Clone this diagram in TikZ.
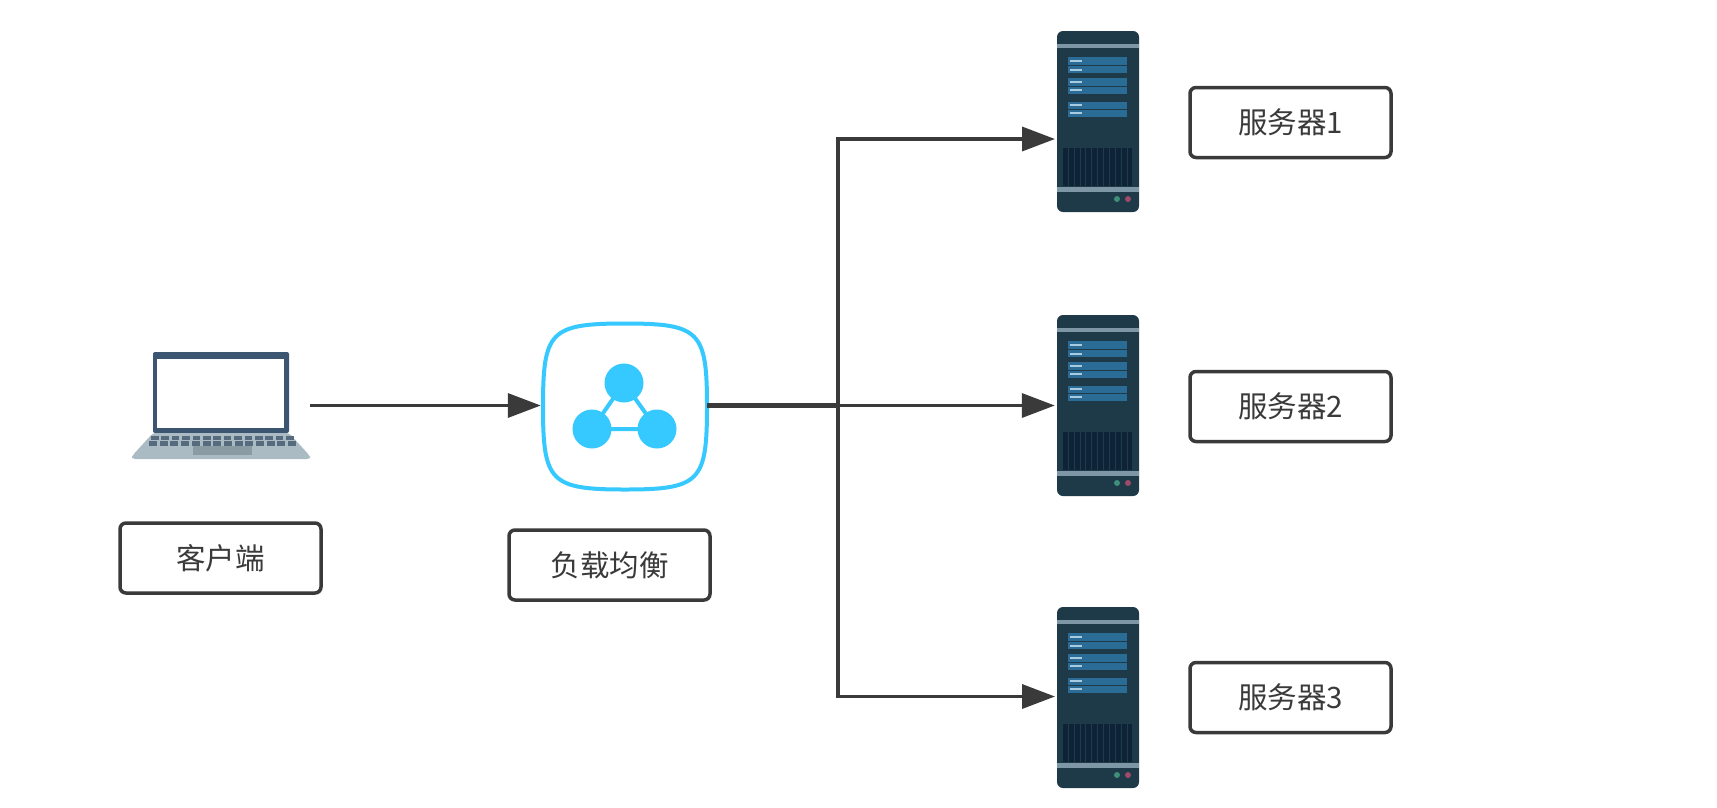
\documentclass[tikz,border=0pt]{standalone}
\usepackage{fontspec}
\setmainfont{Noto Sans CJK SC}
\usetikzlibrary{arrows.meta}
\definecolor{ink}{HTML}{3A3A3A}
\definecolor{srvbody}{HTML}{1E3947}
\definecolor{srvstrip}{HTML}{7E97A6}
\definecolor{srvrow}{HTML}{2A6C96}
\definecolor{srvtick}{HTML}{A9CBE0}
\definecolor{srvgrille}{HTML}{0E2436}
\definecolor{srvbar}{HTML}{1F3B4D}
\definecolor{ledgreen}{HTML}{3E8F7A}
\definecolor{ledred}{HTML}{A04A6A}
\definecolor{lbblue}{HTML}{36C9FF}
\definecolor{lapdark}{HTML}{3C5570}
\definecolor{lapbase}{HTML}{AABBC4}
\definecolor{lapkey}{HTML}{566B7E}
\definecolor{lappad}{HTML}{8B9BA3}
\tikzset{
  x=1pt,y=-1pt,
  labelbox/.style={draw=ink,line width=3.5pt,rounded corners=6pt,fill=white,
    minimum width=201pt,minimum height=70pt,inner sep=0pt,text=ink,
    font=\fontsize{29.5}{33}\selectfont},
  serverbody/.style={fill=srvbody,rounded corners=6pt,minimum width=82pt,minimum height=181pt,inner sep=0pt},
  ghost/.style={inner sep=0pt},
  flow/.style={draw=ink,line width=3.5pt,-{Triangle[length=33pt,width=24pt]}},
  trunk/.style={draw=ink,line width=5.5pt},
  serverdetail/.pic={
    \begin{scope}[shift={(-1098,-121.5)}]
      \fill[srvstrip] (1057,44) rectangle (1139,48);
      \fill[srvrow] (1068,57) rectangle (1127,65);
      \fill[srvrow] (1068,66) rectangle (1127,73);
      \fill[srvrow] (1068,78) rectangle (1127,86);
      \fill[srvrow] (1068,87) rectangle (1127,94);
      \fill[srvrow] (1068,102) rectangle (1127,109);
      \fill[srvrow] (1068,110) rectangle (1127,117);
      \foreach \yy in {61,70,82,90,105,113}
        \fill[srvtick] (1070,\yy-1) rectangle (1082,\yy+1);
      \fill[srvgrille] (1063,148) rectangle (1132,186);
      \foreach \xx in {1068,1074,1080,1085,1091,1097,1103,1109,1115,1121,1127}
        \fill[srvbar] (\xx,148) rectangle (\xx+.8,186);
      \fill[srvstrip] (1057,187) rectangle (1139,192);
      \fill[ledgreen] (1117,199) circle (3);
      \fill[ledred] (1128,199) circle (3);
    \end{scope}
  }
}
\begin{document}
\begin{tikzpicture}
\useasboundingbox (0,0) rectangle (1717,807);
\fill[white] (0,0) rectangle (1717,807);

% client laptop
\node[ghost,minimum width=178pt,minimum height=107pt] (client) at (221,405.5) {};
\fill[lapdark,rounded corners=2pt] (153,352) rectangle (289,433);
\fill[white] (157,359) rectangle (284,428);
\fill[lapbase,rounded corners=3pt] (153,433) -- (289,433) -- (310,456) -- (310,459) -- (132,459) -- (132,456) -- cycle;
\foreach \i in {0,...,13} {
  \fill[lapkey] (151+\i*10.4,435.5) rectangle (158.5+\i*10.4,440);
}
\foreach \i in {0,...,13} {
  \fill[lapkey] (149+\i*10.7,441) rectangle (157+\i*10.7,445.5);
}
\fill[lappad] (193,446) rectangle (252,455);

% load balancer
\node[ghost,minimum width=164pt,minimum height=166pt] (lb) at (625,405.5) {};
\begin{scope}[shift={(625,406.5)}]
  \draw[lbblue,line width=4pt,fill=white] (0,-83) .. controls (75,-83) and (82,-75) .. (82,0)
    .. controls (82,75) and (75,83) .. (0,83)
    .. controls (-75,83) and (-82,75) .. (-82,0)
    .. controls (-82,-75) and (-75,-83) .. (0,-83) -- cycle;
  \draw[lbblue,line width=4pt] (-1,-23.5) -- (-33,22.5) -- (32,22.5) -- cycle;
  \fill[lbblue] (-1,-23.5) circle (19.5);
  \fill[lbblue] (-33,22.5) circle (19.5);
  \fill[lbblue] (32,22.5) circle (19.5);
\end{scope}

% servers
\node[serverbody] (s1) at (1098,121.5) {};
\node[serverbody] (s2) at (1098,405.5) {};
\node[serverbody] (s3) at (1098,697.5) {};
\pic at (s1.center) {serverdetail};
\pic at (s2.center) {serverdetail};
\pic at (s3.center) {serverdetail};

% labels
\node[labelbox] (lc) at (220.5,558) {\raisebox{-3pt}{客户端}};
\node[labelbox] (ll) at (609.5,565) {\raisebox{-2pt}{负载均衡}};
\node[labelbox] (l1) at (1290.5,122.5) {\raisebox{-1pt}{服务器1}};
\node[labelbox] (l2) at (1290.5,406.5) {服务器2};
\node[labelbox] (l3) at (1290.5,697.5) {\raisebox{-1pt}{服务器3}};

% connectors
\coordinate (junction) at (838,405.5);
\coordinate (s1in) at (1055,139);
\coordinate (s3in) at (1055,696.5);
\draw[flow,shorten >=2pt] (client.east) -- (lb.west);
\draw[trunk] (lb.east) -- (junction);
\draw[flow] (junction) |- (s1in);
\draw[flow,shorten >=2pt] (junction) -- (s2.west);
\draw[flow] (junction) |- (s3in);
\end{tikzpicture}
\end{document}
